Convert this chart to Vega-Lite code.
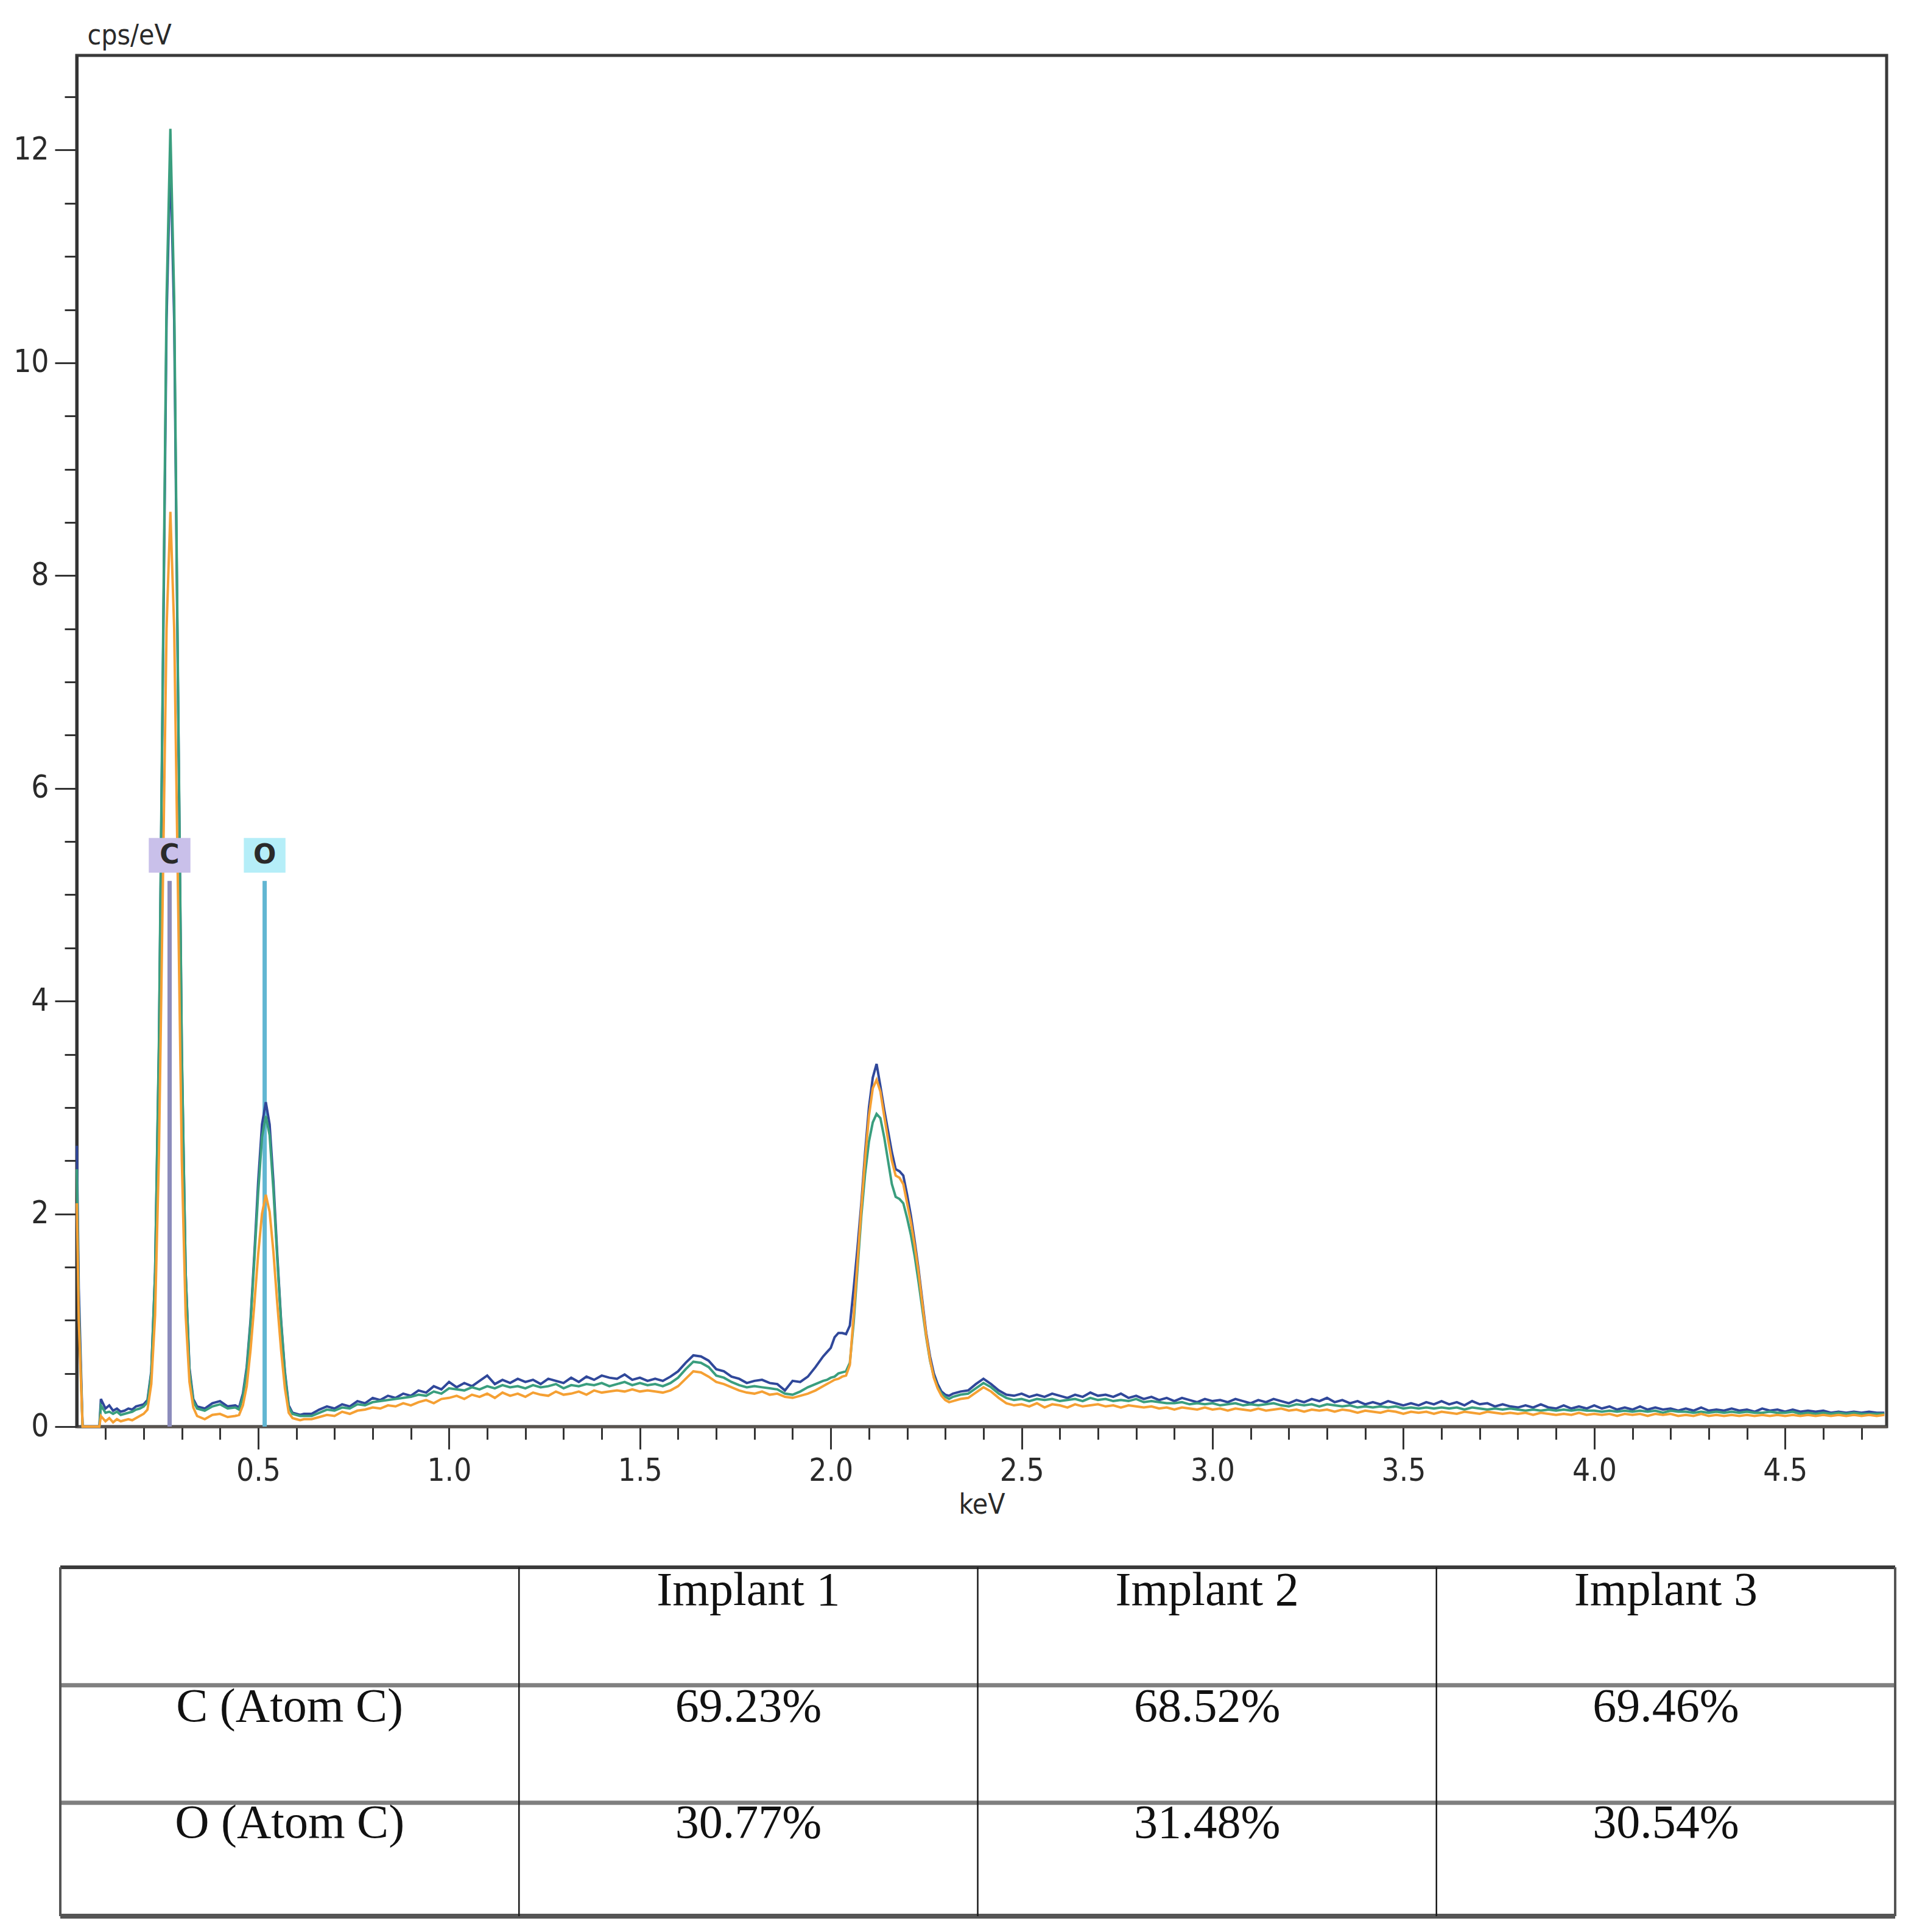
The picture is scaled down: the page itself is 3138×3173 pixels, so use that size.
{
  "$schema": "https://vega.github.io/schema/vega-lite/v6.json",
  "autosize": {"type": "none"},
  "width": 2972,
  "height": 2252,
  "padding": {"left": 126, "top": 91, "right": 40, "bottom": 830},
  "background": "white",
  "config": {
    "view": {"stroke": "#3a3a3a", "strokeWidth": 5},
    "font": "DejaVu Sans Condensed, Liberation Sans Narrow, Open Sans"
  },
  "datasets": {
    "spectrum": [
      {"e":0.025,"s1":2.64,"s2":2.42,"s3":2.10},
      {"e":0.03,"s1":1.30,"s2":1.10,"s3":1.00},
      {"e":0.04,"s1":0.0,"s2":0.0,"s3":0.0},
      {"e":0.06,"s1":0.0,"s2":0.0,"s3":0.0},
      {"e":0.084,"s1":0.0,"s2":0.0,"s3":0.0},
      {"e":0.088,"s1":0.26,"s2":0.20,"s3":0.10},
      {"e":0.10,"s1":0.17,"s2":0.13,"s3":0.05},
      {"e":0.11,"s1":0.20,"s2":0.14,"s3":0.08},
      {"e":0.12,"s1":0.15,"s2":0.12,"s3":0.04},
      {"e":0.13,"s1":0.17,"s2":0.14,"s3":0.07},
      {"e":0.14,"s1":0.14,"s2":0.11,"s3":0.05},
      {"e":0.15,"s1":0.15,"s2":0.12,"s3":0.06},
      {"e":0.16,"s1":0.17,"s2":0.13,"s3":0.07},
      {"e":0.17,"s1":0.16,"s2":0.14,"s3":0.06},
      {"e":0.18,"s1":0.19,"s2":0.16,"s3":0.08},
      {"e":0.19,"s1":0.20,"s2":0.17,"s3":0.10},
      {"e":0.20,"s1":0.21,"s2":0.19,"s3":0.12},
      {"e":0.21,"s1":0.25,"s2":0.23,"s3":0.16},
      {"e":0.22,"s1":0.52,"s2":0.50,"s3":0.40},
      {"e":0.23,"s1":1.45,"s2":1.45,"s3":1.05},
      {"e":0.24,"s1":3.55,"s2":3.62,"s3":2.55},
      {"e":0.25,"s1":6.9,"s2":7.05,"s3":5.0},
      {"e":0.26,"s1":10.4,"s2":10.6,"s3":7.5},
      {"e":0.27,"s1":11.95,"s2":12.2,"s3":8.6},
      {"e":0.28,"s1":10.4,"s2":10.6,"s3":7.5},
      {"e":0.29,"s1":6.9,"s2":7.0,"s3":5.0},
      {"e":0.30,"s1":3.5,"s2":3.55,"s3":2.5},
      {"e":0.31,"s1":1.45,"s2":1.45,"s3":1.05},
      {"e":0.32,"s1":0.55,"s2":0.52,"s3":0.42},
      {"e":0.33,"s1":0.26,"s2":0.24,"s3":0.18},
      {"e":0.34,"s1":0.19,"s2":0.17,"s3":0.10},
      {"e":0.36,"s1":0.17,"s2":0.15,"s3":0.07},
      {"e":0.38,"s1":0.22,"s2":0.19,"s3":0.11},
      {"e":0.40,"s1":0.24,"s2":0.21,"s3":0.12},
      {"e":0.42,"s1":0.19,"s2":0.17,"s3":0.09},
      {"e":0.44,"s1":0.20,"s2":0.18,"s3":0.10},
      {"e":0.45,"s1":0.18,"s2":0.16,"s3":0.11},
      {"e":0.46,"s1":0.31,"s2":0.28,"s3":0.20},
      {"e":0.47,"s1":0.56,"s2":0.53,"s3":0.38},
      {"e":0.48,"s1":1.0,"s2":0.97,"s3":0.72},
      {"e":0.49,"s1":1.62,"s2":1.57,"s3":1.15},
      {"e":0.50,"s1":2.3,"s2":2.2,"s3":1.62},
      {"e":0.51,"s1":2.84,"s2":2.72,"s3":2.0},
      {"e":0.52,"s1":3.05,"s2":2.92,"s3":2.18},
      {"e":0.53,"s1":2.84,"s2":2.74,"s3":2.02},
      {"e":0.54,"s1":2.3,"s2":2.22,"s3":1.64},
      {"e":0.55,"s1":1.62,"s2":1.58,"s3":1.16},
      {"e":0.56,"s1":1.0,"s2":0.98,"s3":0.72},
      {"e":0.57,"s1":0.52,"s2":0.5,"s3":0.36},
      {"e":0.58,"s1":0.2,"s2":0.18,"s3":0.13},
      {"e":0.59,"s1":0.13,"s2":0.12,"s3":0.08},
      {"e":0.60,"s1":0.12,"s2":0.11,"s3":0.07},
      {"e":0.61,"s1":0.11,"s2":0.10,"s3":0.06},
      {"e":0.62,"s1":0.12,"s2":0.10,"s3":0.07},
      {"e":0.64,"s1":0.12,"s2":0.10,"s3":0.07},
      {"e":0.66,"s1":0.16,"s2":0.13,"s3":0.09},
      {"e":0.68,"s1":0.19,"s2":0.16,"s3":0.11},
      {"e":0.70,"s1":0.17,"s2":0.15,"s3":0.10},
      {"e":0.72,"s1":0.21,"s2":0.18,"s3":0.14},
      {"e":0.74,"s1":0.19,"s2":0.17,"s3":0.12},
      {"e":0.76,"s1":0.24,"s2":0.21,"s3":0.15},
      {"e":0.78,"s1":0.22,"s2":0.20,"s3":0.16},
      {"e":0.80,"s1":0.27,"s2":0.23,"s3":0.18},
      {"e":0.82,"s1":0.25,"s2":0.24,"s3":0.17},
      {"e":0.84,"s1":0.29,"s2":0.25,"s3":0.20},
      {"e":0.86,"s1":0.27,"s2":0.26,"s3":0.19},
      {"e":0.88,"s1":0.31,"s2":0.27,"s3":0.22},
      {"e":0.90,"s1":0.29,"s2":0.28,"s3":0.20},
      {"e":0.92,"s1":0.34,"s2":0.30,"s3":0.23},
      {"e":0.94,"s1":0.32,"s2":0.29,"s3":0.25},
      {"e":0.96,"s1":0.38,"s2":0.33,"s3":0.22},
      {"e":0.98,"s1":0.35,"s2":0.31,"s3":0.26},
      {"e":1.00,"s1":0.42,"s2":0.36,"s3":0.27},
      {"e":1.02,"s1":0.37,"s2":0.35,"s3":0.29},
      {"e":1.04,"s1":0.41,"s2":0.34,"s3":0.26},
      {"e":1.06,"s1":0.38,"s2":0.37,"s3":0.30},
      {"e":1.08,"s1":0.43,"s2":0.35,"s3":0.28},
      {"e":1.10,"s1":0.48,"s2":0.38,"s3":0.31},
      {"e":1.12,"s1":0.40,"s2":0.36,"s3":0.27},
      {"e":1.14,"s1":0.44,"s2":0.39,"s3":0.32},
      {"e":1.16,"s1":0.41,"s2":0.37,"s3":0.29},
      {"e":1.18,"s1":0.45,"s2":0.38,"s3":0.31},
      {"e":1.20,"s1":0.42,"s2":0.36,"s3":0.28},
      {"e":1.22,"s1":0.44,"s2":0.39,"s3":0.32},
      {"e":1.24,"s1":0.40,"s2":0.37,"s3":0.30},
      {"e":1.26,"s1":0.45,"s2":0.38,"s3":0.29},
      {"e":1.28,"s1":0.43,"s2":0.40,"s3":0.33},
      {"e":1.30,"s1":0.41,"s2":0.36,"s3":0.30},
      {"e":1.32,"s1":0.46,"s2":0.39,"s3":0.31},
      {"e":1.34,"s1":0.42,"s2":0.38,"s3":0.33},
      {"e":1.36,"s1":0.47,"s2":0.40,"s3":0.30},
      {"e":1.38,"s1":0.44,"s2":0.39,"s3":0.34},
      {"e":1.40,"s1":0.48,"s2":0.41,"s3":0.32},
      {"e":1.42,"s1":0.46,"s2":0.38,"s3":0.33},
      {"e":1.44,"s1":0.45,"s2":0.40,"s3":0.34},
      {"e":1.46,"s1":0.49,"s2":0.42,"s3":0.33},
      {"e":1.48,"s1":0.44,"s2":0.39,"s3":0.35},
      {"e":1.50,"s1":0.46,"s2":0.41,"s3":0.33},
      {"e":1.52,"s1":0.43,"s2":0.39,"s3":0.34},
      {"e":1.54,"s1":0.45,"s2":0.40,"s3":0.33},
      {"e":1.56,"s1":0.43,"s2":0.38,"s3":0.32},
      {"e":1.58,"s1":0.47,"s2":0.41,"s3":0.34},
      {"e":1.60,"s1":0.52,"s2":0.46,"s3":0.38},
      {"e":1.62,"s1":0.60,"s2":0.54,"s3":0.45},
      {"e":1.64,"s1":0.67,"s2":0.61,"s3":0.52},
      {"e":1.66,"s1":0.66,"s2":0.60,"s3":0.51},
      {"e":1.68,"s1":0.62,"s2":0.56,"s3":0.47},
      {"e":1.70,"s1":0.54,"s2":0.48,"s3":0.42},
      {"e":1.72,"s1":0.52,"s2":0.46,"s3":0.40},
      {"e":1.74,"s1":0.47,"s2":0.42,"s3":0.37},
      {"e":1.76,"s1":0.45,"s2":0.39,"s3":0.34},
      {"e":1.78,"s1":0.41,"s2":0.37,"s3":0.32},
      {"e":1.80,"s1":0.43,"s2":0.38,"s3":0.31},
      {"e":1.82,"s1":0.44,"s2":0.37,"s3":0.33},
      {"e":1.84,"s1":0.41,"s2":0.36,"s3":0.30},
      {"e":1.86,"s1":0.40,"s2":0.35,"s3":0.31},
      {"e":1.88,"s1":0.34,"s2":0.31,"s3":0.28},
      {"e":1.90,"s1":0.43,"s2":0.30,"s3":0.27},
      {"e":1.92,"s1":0.42,"s2":0.33,"s3":0.29},
      {"e":1.94,"s1":0.47,"s2":0.37,"s3":0.31},
      {"e":1.96,"s1":0.56,"s2":0.40,"s3":0.34},
      {"e":1.98,"s1":0.66,"s2":0.43,"s3":0.38},
      {"e":1.99,"s1":0.70,"s2":0.44,"s3":0.40},
      {"e":2.00,"s1":0.74,"s2":0.46,"s3":0.42},
      {"e":2.01,"s1":0.84,"s2":0.47,"s3":0.44},
      {"e":2.02,"s1":0.88,"s2":0.50,"s3":0.45},
      {"e":2.03,"s1":0.88,"s2":0.51,"s3":0.47},
      {"e":2.04,"s1":0.87,"s2":0.52,"s3":0.48},
      {"e":2.05,"s1":0.95,"s2":0.60,"s3":0.58},
      {"e":2.06,"s1":1.30,"s2":0.98,"s3":1.05},
      {"e":2.07,"s1":1.68,"s2":1.48,"s3":1.55},
      {"e":2.08,"s1":2.10,"s2":1.98,"s3":2.05},
      {"e":2.09,"s1":2.58,"s2":2.38,"s3":2.52},
      {"e":2.10,"s1":3.00,"s2":2.68,"s3":2.92},
      {"e":2.11,"s1":3.28,"s2":2.86,"s3":3.18},
      {"e":2.12,"s1":3.41,"s2":2.94,"s3":3.26},
      {"e":2.13,"s1":3.20,"s2":2.90,"s3":3.15},
      {"e":2.14,"s1":2.98,"s2":2.72,"s3":2.92},
      {"e":2.15,"s1":2.78,"s2":2.50,"s3":2.70},
      {"e":2.16,"s1":2.58,"s2":2.28,"s3":2.50},
      {"e":2.17,"s1":2.42,"s2":2.16,"s3":2.36},
      {"e":2.18,"s1":2.40,"s2":2.14,"s3":2.34},
      {"e":2.19,"s1":2.36,"s2":2.10,"s3":2.28},
      {"e":2.20,"s1":2.18,"s2":1.96,"s3":2.10},
      {"e":2.21,"s1":1.98,"s2":1.80,"s3":1.92},
      {"e":2.22,"s1":1.74,"s2":1.60,"s3":1.70},
      {"e":2.23,"s1":1.48,"s2":1.36,"s3":1.45},
      {"e":2.24,"s1":1.18,"s2":1.10,"s3":1.15},
      {"e":2.25,"s1":0.88,"s2":0.84,"s3":0.86},
      {"e":2.26,"s1":0.66,"s2":0.62,"s3":0.63},
      {"e":2.27,"s1":0.50,"s2":0.47,"s3":0.46},
      {"e":2.28,"s1":0.40,"s2":0.37,"s3":0.36},
      {"e":2.29,"s1":0.33,"s2":0.31,"s3":0.29},
      {"e":2.30,"s1":0.30,"s2":0.28,"s3":0.25},
      {"e":2.31,"s1":0.29,"s2":0.26,"s3":0.23},
      {"e":2.32,"s1":0.31,"s2":0.28,"s3":0.24},
      {"e":2.34,"s1":0.33,"s2":0.30,"s3":0.26},
      {"e":2.36,"s1":0.34,"s2":0.31,"s3":0.27},
      {"e":2.38,"s1":0.40,"s2":0.36,"s3":0.32},
      {"e":2.40,"s1":0.45,"s2":0.41,"s3":0.37},
      {"e":2.42,"s1":0.40,"s2":0.37,"s3":0.33},
      {"e":2.44,"s1":0.34,"s2":0.31,"s3":0.27},
      {"e":2.46,"s1":0.30,"s2":0.27,"s3":0.22},
      {"e":2.48,"s1":0.29,"s2":0.25,"s3":0.20},
      {"e":2.50,"s1":0.31,"s2":0.26,"s3":0.21},
      {"e":2.52,"s1":0.28,"s2":0.24,"s3":0.19},
      {"e":2.54,"s1":0.30,"s2":0.26,"s3":0.22},
      {"e":2.56,"s1":0.28,"s2":0.25,"s3":0.18},
      {"e":2.58,"s1":0.31,"s2":0.26,"s3":0.21},
      {"e":2.60,"s1":0.29,"s2":0.24,"s3":0.20},
      {"e":2.62,"s1":0.27,"s2":0.25,"s3":0.18},
      {"e":2.64,"s1":0.30,"s2":0.26,"s3":0.21},
      {"e":2.66,"s1":0.28,"s2":0.24,"s3":0.19},
      {"e":2.68,"s1":0.32,"s2":0.27,"s3":0.20},
      {"e":2.70,"s1":0.29,"s2":0.25,"s3":0.21},
      {"e":2.72,"s1":0.30,"s2":0.26,"s3":0.19},
      {"e":2.74,"s1":0.28,"s2":0.24,"s3":0.20},
      {"e":2.76,"s1":0.31,"s2":0.25,"s3":0.18},
      {"e":2.78,"s1":0.27,"s2":0.24,"s3":0.20},
      {"e":2.80,"s1":0.29,"s2":0.26,"s3":0.19},
      {"e":2.82,"s1":0.26,"s2":0.23,"s3":0.18},
      {"e":2.84,"s1":0.28,"s2":0.24,"s3":0.19},
      {"e":2.86,"s1":0.25,"s2":0.23,"s3":0.17},
      {"e":2.88,"s1":0.27,"s2":0.22,"s3":0.18},
      {"e":2.90,"s1":0.24,"s2":0.22,"s3":0.16},
      {"e":2.92,"s1":0.27,"s2":0.23,"s3":0.18},
      {"e":2.94,"s1":0.25,"s2":0.21,"s3":0.17},
      {"e":2.96,"s1":0.23,"s2":0.22,"s3":0.16},
      {"e":2.98,"s1":0.26,"s2":0.21,"s3":0.18},
      {"e":3.00,"s1":0.24,"s2":0.22,"s3":0.16},
      {"e":3.02,"s1":0.25,"s2":0.20,"s3":0.17},
      {"e":3.04,"s1":0.23,"s2":0.21,"s3":0.15},
      {"e":3.06,"s1":0.26,"s2":0.22,"s3":0.17},
      {"e":3.08,"s1":0.24,"s2":0.20,"s3":0.16},
      {"e":3.10,"s1":0.22,"s2":0.21,"s3":0.15},
      {"e":3.12,"s1":0.25,"s2":0.20,"s3":0.17},
      {"e":3.14,"s1":0.23,"s2":0.21,"s3":0.15},
      {"e":3.16,"s1":0.26,"s2":0.22,"s3":0.16},
      {"e":3.18,"s1":0.24,"s2":0.20,"s3":0.17},
      {"e":3.20,"s1":0.22,"s2":0.19,"s3":0.15},
      {"e":3.22,"s1":0.25,"s2":0.21,"s3":0.16},
      {"e":3.24,"s1":0.23,"s2":0.20,"s3":0.14},
      {"e":3.26,"s1":0.26,"s2":0.21,"s3":0.16},
      {"e":3.28,"s1":0.24,"s2":0.19,"s3":0.15},
      {"e":3.30,"s1":0.27,"s2":0.21,"s3":0.16},
      {"e":3.32,"s1":0.23,"s2":0.20,"s3":0.14},
      {"e":3.34,"s1":0.25,"s2":0.19,"s3":0.16},
      {"e":3.36,"s1":0.22,"s2":0.20,"s3":0.15},
      {"e":3.38,"s1":0.24,"s2":0.18,"s3":0.13},
      {"e":3.40,"s1":0.21,"s2":0.19,"s3":0.15},
      {"e":3.42,"s1":0.23,"s2":0.18,"s3":0.14},
      {"e":3.44,"s1":0.21,"s2":0.19,"s3":0.13},
      {"e":3.46,"s1":0.24,"s2":0.18,"s3":0.15},
      {"e":3.48,"s1":0.22,"s2":0.19,"s3":0.14},
      {"e":3.50,"s1":0.20,"s2":0.17,"s3":0.12},
      {"e":3.52,"s1":0.22,"s2":0.18,"s3":0.14},
      {"e":3.54,"s1":0.20,"s2":0.17,"s3":0.13},
      {"e":3.56,"s1":0.23,"s2":0.18,"s3":0.14},
      {"e":3.58,"s1":0.21,"s2":0.17,"s3":0.12},
      {"e":3.60,"s1":0.24,"s2":0.18,"s3":0.14},
      {"e":3.62,"s1":0.21,"s2":0.17,"s3":0.13},
      {"e":3.64,"s1":0.23,"s2":0.18,"s3":0.12},
      {"e":3.66,"s1":0.20,"s2":0.16,"s3":0.14},
      {"e":3.68,"s1":0.24,"s2":0.18,"s3":0.13},
      {"e":3.70,"s1":0.21,"s2":0.17,"s3":0.12},
      {"e":3.72,"s1":0.22,"s2":0.16,"s3":0.14},
      {"e":3.74,"s1":0.19,"s2":0.17,"s3":0.13},
      {"e":3.76,"s1":0.21,"s2":0.16,"s3":0.12},
      {"e":3.78,"s1":0.19,"s2":0.17,"s3":0.13},
      {"e":3.80,"s1":0.18,"s2":0.16,"s3":0.12},
      {"e":3.82,"s1":0.20,"s2":0.15,"s3":0.13},
      {"e":3.84,"s1":0.18,"s2":0.16,"s3":0.11},
      {"e":3.86,"s1":0.21,"s2":0.15,"s3":0.13},
      {"e":3.88,"s1":0.18,"s2":0.16,"s3":0.12},
      {"e":3.90,"s1":0.17,"s2":0.15,"s3":0.11},
      {"e":3.92,"s1":0.20,"s2":0.16,"s3":0.12},
      {"e":3.94,"s1":0.17,"s2":0.15,"s3":0.11},
      {"e":3.96,"s1":0.19,"s2":0.16,"s3":0.13},
      {"e":3.98,"s1":0.17,"s2":0.15,"s3":0.11},
      {"e":4.00,"s1":0.20,"s2":0.15,"s3":0.12},
      {"e":4.02,"s1":0.17,"s2":0.14,"s3":0.11},
      {"e":4.04,"s1":0.19,"s2":0.15,"s3":0.12},
      {"e":4.06,"s1":0.16,"s2":0.14,"s3":0.10},
      {"e":4.08,"s1":0.18,"s2":0.15,"s3":0.12},
      {"e":4.10,"s1":0.16,"s2":0.14,"s3":0.11},
      {"e":4.12,"s1":0.19,"s2":0.15,"s3":0.12},
      {"e":4.14,"s1":0.16,"s2":0.14,"s3":0.10},
      {"e":4.16,"s1":0.18,"s2":0.15,"s3":0.12},
      {"e":4.18,"s1":0.16,"s2":0.13,"s3":0.11},
      {"e":4.20,"s1":0.17,"s2":0.15,"s3":0.12},
      {"e":4.22,"s1":0.15,"s2":0.14,"s3":0.10},
      {"e":4.24,"s1":0.17,"s2":0.14,"s3":0.11},
      {"e":4.26,"s1":0.15,"s2":0.13,"s3":0.10},
      {"e":4.28,"s1":0.18,"s2":0.14,"s3":0.12},
      {"e":4.30,"s1":0.15,"s2":0.13,"s3":0.10},
      {"e":4.32,"s1":0.16,"s2":0.14,"s3":0.11},
      {"e":4.34,"s1":0.15,"s2":0.13,"s3":0.10},
      {"e":4.36,"s1":0.17,"s2":0.14,"s3":0.11},
      {"e":4.38,"s1":0.15,"s2":0.13,"s3":0.10},
      {"e":4.40,"s1":0.16,"s2":0.14,"s3":0.11},
      {"e":4.42,"s1":0.14,"s2":0.13,"s3":0.10},
      {"e":4.44,"s1":0.17,"s2":0.13,"s3":0.11},
      {"e":4.46,"s1":0.15,"s2":0.14,"s3":0.10},
      {"e":4.48,"s1":0.16,"s2":0.13,"s3":0.11},
      {"e":4.50,"s1":0.14,"s2":0.13,"s3":0.10},
      {"e":4.52,"s1":0.16,"s2":0.14,"s3":0.11},
      {"e":4.54,"s1":0.14,"s2":0.12,"s3":0.10},
      {"e":4.56,"s1":0.15,"s2":0.13,"s3":0.11},
      {"e":4.58,"s1":0.14,"s2":0.12,"s3":0.10},
      {"e":4.60,"s1":0.15,"s2":0.13,"s3":0.11},
      {"e":4.62,"s1":0.13,"s2":0.12,"s3":0.10},
      {"e":4.64,"s1":0.14,"s2":0.13,"s3":0.11},
      {"e":4.66,"s1":0.13,"s2":0.12,"s3":0.10},
      {"e":4.68,"s1":0.14,"s2":0.13,"s3":0.11},
      {"e":4.70,"s1":0.13,"s2":0.12,"s3":0.10},
      {"e":4.72,"s1":0.14,"s2":0.12,"s3":0.11},
      {"e":4.74,"s1":0.13,"s2":0.12,"s3":0.10},
      {"e":4.76,"s1":0.13,"s2":0.12,"s3":0.11}
    ],
    "markers": [
      {"el": "C", "e": 0.268, "top": 5.13, "lab": 5.37},
      {"el": "O", "e": 0.517, "top": 5.13, "lab": 5.37}
    ],
    "hlines": [
      {"pos": 0, "kind": "top"},
      {"pos": 1.015, "kind": "sep"},
      {"pos": 2.025, "kind": "sep"},
      {"pos": 3, "kind": "bottom"}
    ],
    "vlines": [
      {"pos": 0, "kind": "outer"},
      {"pos": 1, "kind": "inner"},
      {"pos": 2, "kind": "inner"},
      {"pos": 3, "kind": "inner"},
      {"pos": 4, "kind": "outer"}
    ],
    "cells": [
      {"row": "header", "col": "Element", "text": ""},
      {"row": "header", "col": "Implant 1", "text": "Implant 1"},
      {"row": "header", "col": "Implant 2", "text": "Implant 2"},
      {"row": "header", "col": "Implant 3", "text": "Implant 3"},
      {"row": "C", "col": "Element", "text": "C (Atom C)"},
      {"row": "C", "col": "Implant 1", "text": "69.23%"},
      {"row": "C", "col": "Implant 2", "text": "68.52%"},
      {"row": "C", "col": "Implant 3", "text": "69.46%"},
      {"row": "O", "col": "Element", "text": "O (Atom C)"},
      {"row": "O", "col": "Implant 1", "text": "30.77%"},
      {"row": "O", "col": "Implant 2", "text": "31.48%"},
      {"row": "O", "col": "Implant 3", "text": "30.54%"}
    ]
  },
  "resolve": {
    "scale": {"x": "independent", "y": "independent", "color": "independent", "strokeWidth": "independent"},
    "axis": {"x": "independent", "y": "independent"}
  },
  "layer": [
    {
      "data": {"name": "markers"},
      "mark": {"type": "rule", "strokeWidth": 7},
      "encoding": {
        "x": {"field": "e", "type": "quantitative",
          "scale": {"domain": [0.0247, 4.766], "nice": false, "zero": false},
          "axis": {"orient": "bottom", "values": [0.1,0.2,0.3,0.4,0.6,0.7,0.8,0.9,1.1,1.2,1.3,1.4,1.6,1.7,1.8,1.9,2.1,2.2,2.3,2.4,2.6,2.7,2.8,2.9,3.1,3.2,3.3,3.4,3.6,3.7,3.8,3.9,4.1,4.2,4.3,4.4,4.6,4.7],
            "labels": false, "domain": false, "grid": false, "title": null, "tickSize": 21, "tickWidth": 3, "tickColor": "#333333"}},
        "y": {"field": "top", "type": "quantitative",
          "scale": {"domain": [0, 12.89], "nice": false, "zero": false},
          "axis": {"orient": "left", "values": [0.5,1,1.5,2.5,3,3.5,4.5,5,5.5,6.5,7,7.5,8.5,9,9.5,10.5,11,11.5,12.5],
            "labels": false, "domain": false, "grid": false, "title": null, "tickSize": 20, "tickWidth": 3, "tickColor": "#333333"}},
        "y2": {"datum": 0},
        "color": {"field": "el", "type": "nominal", "scale": {"domain": ["C", "O"], "range": ["#8c8cbc", "#62b6d2"]}, "legend": null}
      }
    },
    {
      "data": {"name": "spectrum"},
      "transform": [{"fold": ["s1", "s2", "s3"], "as": ["series", "cps"]}],
      "mark": {"type": "line", "strokeWidth": 4, "interpolate": "linear"},
      "encoding": {
        "x": {"field": "e", "type": "quantitative",
          "scale": {"domain": [0.0247, 4.766], "nice": false, "zero": false},
          "axis": {"orient": "bottom", "values": [0.5,1,1.5,2,2.5,3,3.5,4,4.5], "format": ".1f",
            "labelFontSize": 51, "labelColor": "#2a2a2a", "labelPadding": 11, "labelFont": "DejaVu Sans Condensed, Liberation Sans Narrow, Open Sans",
            "tickSize": 37, "tickWidth": 3, "tickColor": "#333333", "grid": false,
            "domain": true, "domainColor": "#5a5550", "domainWidth": 4,
            "title": "keV", "titleFontSize": 46, "titleFontWeight": "normal", "titleColor": "#2a2a2a", "titlePadding": 8,
            "titleFont": "DejaVu Sans Condensed, Liberation Sans Narrow, Open Sans"}},
        "y": {"field": "cps", "type": "quantitative",
          "scale": {"domain": [0, 12.89], "nice": false, "zero": false},
          "axis": {"orient": "left", "values": [0,2,4,6,8,10,12], "format": "d",
            "labelFontSize": 51, "labelColor": "#2a2a2a", "labelPadding": 10, "labelFont": "DejaVu Sans Condensed, Liberation Sans Narrow, Open Sans",
            "tickSize": 36, "tickWidth": 3, "tickColor": "#333333", "grid": false,
            "domain": true, "domainColor": "#333333", "domainWidth": 5,
            "title": "cps/eV", "titleAngle": 0, "titleAlign": "left", "titleBaseline": "alphabetic",
            "titleX": 17, "titleY": -19, "titleFontSize": 46, "titleFontWeight": "normal", "titleColor": "#2a2a2a",
            "titleFont": "DejaVu Sans Condensed, Liberation Sans Narrow, Open Sans"}},
        "color": {"field": "series", "type": "nominal",
          "scale": {"domain": ["s1", "s2", "s3"], "range": ["#30489a", "#3a9e7e", "#f5a033"]}, "legend": null}
      }
    },
    {
      "data": {"name": "markers"},
      "mark": {"type": "point", "filled": true, "opacity": 1, "size": 3249, "shape": "M -1.2 -1 L 1.2 -1 L 1.2 1 L -1.2 1 Z"},
      "encoding": {
        "x": {"field": "e", "type": "quantitative", "scale": {"domain": [0.0247, 4.766], "nice": false, "zero": false}, "axis": null},
        "y": {"field": "lab", "type": "quantitative", "scale": {"domain": [0, 12.89], "nice": false, "zero": false}, "axis": null},
        "color": {"field": "el", "type": "nominal", "scale": {"domain": ["C", "O"], "range": ["#c9c0ea", "#b5eef8"]}, "legend": null}
      }
    },
    {
      "data": {"name": "markers"},
      "mark": {"type": "text", "fontSize": 44, "fontWeight": "bold", "color": "#2a2a2a", "align": "center", "baseline": "middle", "font": "DejaVu Sans"},
      "encoding": {
        "x": {"field": "e", "type": "quantitative", "scale": {"domain": [0.0247, 4.766], "nice": false, "zero": false}, "axis": null},
        "y": {"field": "lab", "type": "quantitative", "scale": {"domain": [0, 12.89], "nice": false, "zero": false}, "axis": null},
        "text": {"field": "el"}
      }
    },
    {
      "data": {"name": "hlines"},
      "mark": {"type": "rule"},
      "encoding": {
        "y": {"field": "pos", "type": "quantitative", "scale": {"domain": [0, 3], "range": [2483, 3056], "nice": false, "zero": false}, "axis": null},
        "x": {"datum": 0, "type": "quantitative", "scale": {"domain": [0, 4], "range": [-27, 2986], "nice": false, "zero": false}, "axis": null},
        "x2": {"datum": 4},
        "color": {"field": "kind", "type": "nominal", "scale": {"domain": ["top", "sep", "bottom"], "range": ["#3a3a3a", "#808080", "#555555"]}, "legend": null},
        "strokeWidth": {"field": "kind", "type": "ordinal", "scale": {"domain": ["top", "sep", "bottom"], "range": [6, 8, 4]}, "legend": null}
      }
    },
    {
      "data": {"name": "vlines"},
      "mark": {"type": "rule"},
      "encoding": {
        "x": {"field": "pos", "type": "quantitative", "scale": {"domain": [0, 4], "range": [-27, 2986], "nice": false, "zero": false}, "axis": null},
        "y": {"datum": 0, "type": "quantitative", "scale": {"domain": [0, 3], "range": [2483, 3056], "nice": false, "zero": false}, "axis": null},
        "y2": {"datum": 3},
        "color": {"field": "kind", "type": "nominal", "scale": {"domain": ["outer", "inner"], "range": ["#555555", "#1a1a1a"]}, "legend": null},
        "strokeWidth": {"field": "kind", "type": "ordinal", "scale": {"domain": ["outer", "inner"], "range": [4, 2.5]}, "legend": null}
      }
    },
    {
      "data": {"name": "cells"},
      "mark": {"type": "text", "font": "Liberation Serif", "fontSize": 78, "color": "#111111", "align": "center", "baseline": "top", "dy": 0},
      "encoding": {
        "x": {"field": "col", "type": "nominal", "scale": {"type": "band", "domain": ["Element", "Implant 1", "Implant 2", "Implant 3"], "range": [-27, 2986], "paddingInner": 0, "paddingOuter": 0}, "axis": null},
        "y": {"field": "row", "type": "nominal", "bandPosition": 0, "scale": {"type": "band", "domain": ["header", "C", "O"], "range": [2483, 3056], "paddingInner": 0, "paddingOuter": 0}, "axis": null},
        "text": {"field": "text"}
      }
    }
  ]
}
